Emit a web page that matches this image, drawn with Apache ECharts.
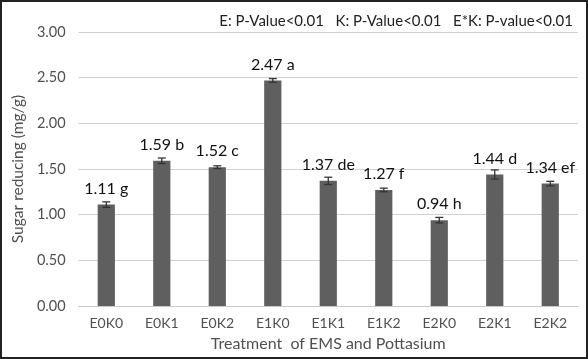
<!DOCTYPE html>
<html><head><meta charset="utf-8">
<script src="https://cdn.jsdelivr.net/npm/echarts@6/dist/echarts.min.js"></script>
<style>html,body{margin:0;padding:0;background:#fff}#c{width:588px;height:359px;box-sizing:border-box;border:2px solid #222}</style>
</head><body><div id="c"></div>
<script>
var categories = ['E0K0','E0K1','E0K2','E1K0','E1K1','E1K2','E2K0','E2K1','E2K2'];
var values = [1.11,1.59,1.52,2.47,1.37,1.27,0.94,1.44,1.34];
var errors = [0.03,0.03,0.015,0.02,0.04,0.02,0.03,0.05,0.025];
var letters = ['g','b','c','a','de','f','h','d','ef'];
var yTicks = [0,0.5,1,1.5,2,2.5,3];
var note = 'E: P-Value<0.01   K: P-Value<0.01   E*K: P-value<0.01';

var font = 'Lato';
var chart = echarts.init(document.getElementById('c'));
chart.setOption({
  animation:false,
  textStyle:{fontFamily:font},
  title:{text:note,right:8,top:7,textStyle:{fontFamily:font,fontSize:15,fontWeight:'normal',color:'#222'}},
  grid:{left:70,right:8,top:30,bottom:51},
  xAxis:{type:'category',data:categories,
    axisLine:{lineStyle:{color:'#c8c8c8'}},axisTick:{show:false},
    axisLabel:{color:'#505050',fontSize:14,margin:10},
    name:'Treatment  of EMS and Pottasium',nameLocation:'middle',nameGap:30,
    nameTextStyle:{color:'#505050',fontSize:16}},
  yAxis:{type:'value',min:yTicks[0],max:yTicks[yTicks.length-1],interval:0.5,
    axisLine:{show:false},axisTick:{show:false},
    splitLine:{lineStyle:{color:'#d0d0d0'}},
    axisLabel:{color:'#505050',fontSize:14.5,margin:13,formatter:function(v){return v.toFixed(2);}},
    name:'Sugar reducing (mg/g)',nameLocation:'middle',nameGap:50,
    nameTextStyle:{color:'#505050',fontSize:15.5}},
  series:[
    {type:'bar',data:values,barWidth:'31%',itemStyle:{color:'#5f5f5f'},
     label:{show:true,position:'top',distance:8,color:'#111',fontSize:16,
       formatter:function(p){return values[p.dataIndex].toFixed(2)+' '+letters[p.dataIndex];}}},
    {type:'custom',data:values.map(function(v,i){return [i,v-errors[i],v+errors[i]];}),
     z:10,
     renderItem:function(params,api){
       var lo=api.coord([api.value(0),api.value(1)]);
       var hi=api.coord([api.value(0),api.value(2)]);
       var w=4;
       var st={stroke:'#333',lineWidth:1.3};
       return {type:'group',children:[
         {type:'line',shape:{x1:hi[0],y1:hi[1],x2:lo[0],y2:lo[1]},style:st},
         {type:'line',shape:{x1:hi[0]-w,y1:hi[1],x2:hi[0]+w,y2:hi[1]},style:st},
         {type:'line',shape:{x1:lo[0]-w,y1:lo[1],x2:lo[0]+w,y2:lo[1]},style:st}
       ]};
     }}
  ]
});
</script></body></html>
